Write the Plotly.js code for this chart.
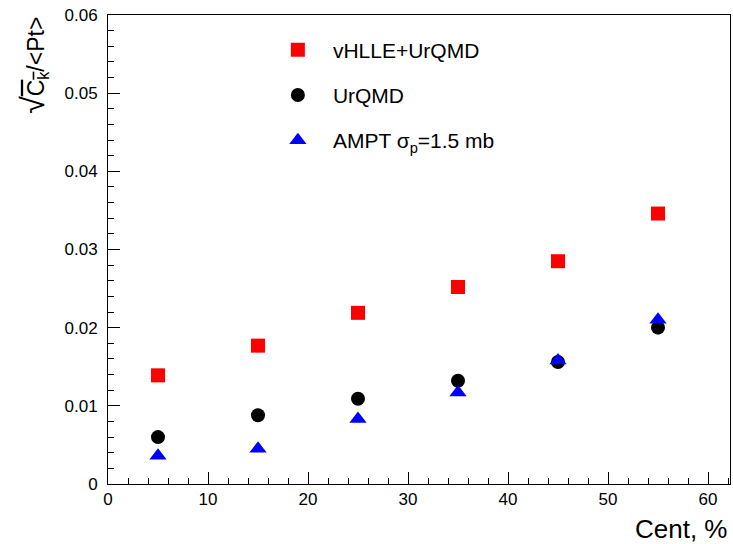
<!DOCTYPE html>
<html>
<head>
<meta charset="utf-8">
<script src="https://cdn.plot.ly/plotly-3.0.1.min.js"></script>
<style>html,body{margin:0;padding:0;background:#fff;}#chart{width:733px;height:544px;}</style>
</head>
<body>
<div id="chart"></div>
<script>
// Data
const centrality = [5, 15, 25, 35, 45, 55];
const vhlleUrqmd = [0.0139, 0.0177, 0.0219, 0.0252, 0.0285, 0.0346];
const urqmd = [0.0060, 0.0088, 0.0109, 0.0132, 0.0156, 0.0200];
const ampt = [0.0036, 0.0045, 0.0083, 0.0117, 0.0158, 0.0210];
const seriesNames = ['vHLLE+UrQMD', 'UrQMD', 'AMPT σ<sub>p</sub>=1.5 mb'];
const xTickVals = [0, 10, 20, 30, 40, 50, 60];
const yTickVals = [0, 0.01, 0.02, 0.03, 0.04, 0.05, 0.06];
const yTickText = ['0', '0.01', '0.02', '0.03', '0.04', '0.05', '0.06'];

const font = 'Liberation Sans, Arial, Helvetica, sans-serif';

const traces = [
  {x: centrality, y: vhlleUrqmd, name: seriesNames[0], legendgroup: 'a', mode: 'markers', type: 'scatter',
   marker: {symbol: 'square', size: 14, color: '#ff0000'}},
  {x: centrality, y: urqmd, name: seriesNames[1], legendgroup: 'b', mode: 'markers', type: 'scatter',
   marker: {symbol: 'circle', size: 14, color: '#000000'}},
  {x: centrality, y: ampt, name: seriesNames[2], legendgroup: 'c', mode: 'markers', type: 'scatter',
   marker: {symbol: 'triangle-up', size: 15, color: '#0000ff'}}
];

const layout = {
  width: 733, height: 544,
  margin: {l: 108, r: 3, t: 15, b: 60},
  paper_bgcolor: '#ffffff', plot_bgcolor: '#ffffff',
  font: {family: font, size: 17, color: '#000'},
  showlegend: true,
  legend: {x: 0.249, y: 0.969, xanchor: 'left', yanchor: 'top', bgcolor: 'rgba(0,0,0,0)',
           font: {family: font, size: 21, color: '#000'}, tracegroupgap: 15, itemwidth: 60},
  xaxis: {range: [0, 62.2], tickvals: xTickVals, ticks: 'inside', ticklen: 12, tickcolor: '#000',
          showgrid: false, zeroline: false, showline: true, linecolor: '#000', linewidth: 1, mirror: true,
          tickfont: {family: font, size: 17},
          minor: {dtick: 2, ticks: 'inside', ticklen: 6, tickcolor: '#000', showgrid: false}},
  yaxis: {range: [0, 0.06], tickvals: yTickVals, ticktext: yTickText, ticks: 'inside', ticklen: 12, tickcolor: '#000',
          showgrid: false, zeroline: false, showline: true, linecolor: '#000', linewidth: 1, mirror: true,
          tickfont: {family: font, size: 17}, ticklabelstandoff: 6,
          minor: {dtick: 0.002, ticks: 'inside', ticklen: 6, tickcolor: '#000', showgrid: false}},
  annotations: [
    {text: 'Cent, %', xref: 'paper', yref: 'paper', x: 1, y: -0.06, xanchor: 'right', yanchor: 'top',
     showarrow: false, font: {family: font, size: 26, color: '#000'}},
    {text: '<span style="font-size:32px">√</span><span style="text-decoration:overline">C<sub>k</sub></span>/&lt;Pt&gt;', xref: 'paper', yref: 'paper',
     x: -0.12, y: 1.0, xanchor: 'center', yanchor: 'top', textangle: -90,
     showarrow: false, font: {family: font, size: 23, color: '#000'}}
  ]
};

Plotly.newPlot('chart', traces, layout, {displayModeBar: false, staticPlot: true});
</script>
</body>
</html>
